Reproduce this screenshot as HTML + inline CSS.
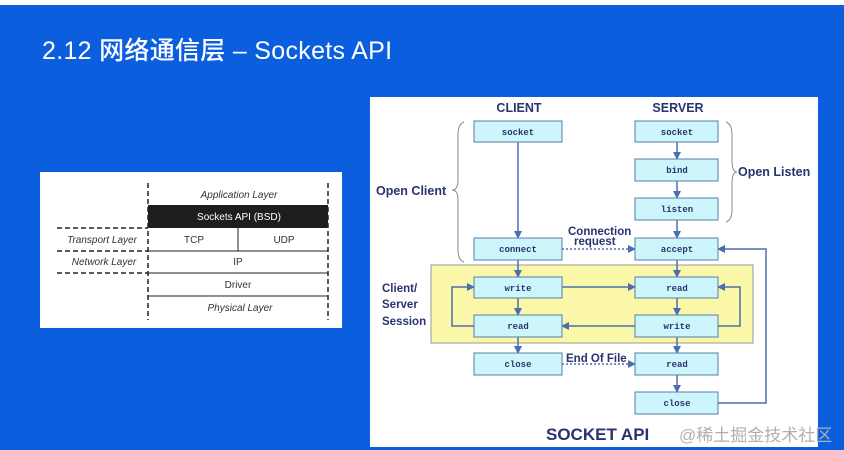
<!DOCTYPE html>
<html><head><meta charset="utf-8"><style>
html,body{margin:0;padding:0;}
body{width:844px;height:450px;overflow:hidden;background:#0b5fdf;position:relative;font-family:"Liberation Sans","Noto Sans CJK SC",sans-serif;}
</style></head><body>
<div style="position:absolute;left:0;top:0;width:844px;height:5px;background:#fff"></div>
<div style="position:absolute;left:42px;top:31px;color:#fff;font-size:25px;font-weight:500;font-family:'Liberation Sans','Noto Sans CJK SC',sans-serif;letter-spacing:0.3px;">2.12 网络通信层 – Sockets API</div>
<svg width="844" height="450" style="position:absolute;left:0;top:0" font-family="Liberation Sans, sans-serif">
<defs><marker id="a" markerWidth="8" markerHeight="8" refX="7" refY="4" orient="auto" markerUnits="userSpaceOnUse"><path d="M0,0 L8,4 L0,8 z" fill="#4a6fb0"/></marker></defs>
<rect x="40" y="172" width="302" height="156" fill="#fff"/>
<g stroke="#222" stroke-width="1.5" fill="none">
<line x1="148" y1="183" x2="148" y2="320" stroke-dasharray="5,3"/>
<line x1="328" y1="183" x2="328" y2="320" stroke-dasharray="5,3"/>
<line x1="57" y1="228" x2="148" y2="228" stroke-dasharray="5,3"/>
<line x1="57" y1="251" x2="148" y2="251" stroke-dasharray="5,3"/>
<line x1="57" y1="273" x2="148" y2="273" stroke-dasharray="5,3"/>
<line x1="148" y1="251" x2="328" y2="251" stroke-width="1"/>
<line x1="148" y1="273" x2="328" y2="273" stroke-width="1"/>
<line x1="148" y1="296" x2="328" y2="296" stroke-width="1"/>
<line x1="238" y1="228" x2="238" y2="251" stroke-width="1"/>
</g>
<rect x="148" y="205" width="180" height="23" fill="#1e1e1e"/>
<g font-size="10" fill="#333" text-anchor="middle">
<text x="239" y="198" font-style="italic">Application Layer</text>
<text x="239" y="220" fill="#fff">Sockets API (BSD)</text>
<text x="194" y="243">TCP</text><text x="284" y="243">UDP</text>
<text x="238" y="265">IP</text>
<text x="238" y="288">Driver</text>
<text x="240" y="311" font-style="italic">Physical Layer</text>
<text x="102" y="243" font-style="italic">Transport Layer</text>
<text x="104" y="265" font-style="italic">Network Layer</text>
</g>
<rect x="370" y="97" width="448" height="350" fill="#fff"/>
<rect x="431" y="265" width="322" height="78" fill="#fbf7a8" stroke="#999" stroke-width="1"/>
<g font-weight="bold" fill="#2a3270" font-size="12.5">
<text x="519" y="112" text-anchor="middle">CLIENT</text>
<text x="678" y="112" text-anchor="middle">SERVER</text>
<text x="376" y="195">Open Client</text>
<text x="738" y="176">Open Listen</text>
<text x="568" y="235" font-size="11.5">Connection</text>
<text x="574" y="245" font-size="11.5">request</text>
<text x="382" y="292" font-size="11.5">Client/</text>
<text x="382" y="308" font-size="11.5">Server</text>
<text x="382" y="325" font-size="11.5">Session</text>
<text x="566" y="362" font-size="11.5">End Of File</text>
<text x="546" y="440" font-size="17">SOCKET API</text>
</g>
<g fill="none" stroke="#888" stroke-width="1">
<path d="M464,122 Q458,124 458,135 L458,180 Q458,190 452,190 Q458,190 458,200 L458,250 Q458,260 464,262"/>
<path d="M726,122 Q732,124 732,135 L732,160 Q732,172 737,172 Q732,172 732,184 L732,210 Q732,220 726,222"/>
</g>
<g stroke="#4a6fb0" stroke-width="1.5" fill="none" marker-end="url(#a)">
<line x1="518" y1="142" x2="518" y2="238"/>
<line x1="677" y1="142" x2="677" y2="159"/>
<line x1="677" y1="181" x2="677" y2="198"/>
<line x1="677" y1="220" x2="677" y2="238"/>
<line x1="518" y1="260" x2="518" y2="277"/>
<line x1="677" y1="260" x2="677" y2="277"/>
<line x1="518" y1="298" x2="518" y2="315"/>
<line x1="677" y1="298" x2="677" y2="315"/>
<line x1="518" y1="337" x2="518" y2="353"/>
<line x1="677" y1="337" x2="677" y2="353"/>
<line x1="677" y1="375" x2="677" y2="392"/>
<line x1="562" y1="287" x2="635" y2="287"/>
<line x1="635" y1="326" x2="562" y2="326"/>
<path d="M474,326 L452,326 L452,287 L474,287"/>
<path d="M718,326 L740,326 L740,287 L718,287"/>
<path d="M718,403 L766,403 L766,249 L718,249"/>
<line x1="562" y1="249" x2="635" y2="249" stroke-dasharray="2,2"/>
<line x1="562" y1="364" x2="635" y2="364" stroke-dasharray="2,2"/>
</g>
<g fill="#ccf6fb" stroke="#5a7ca8" stroke-width="1">
<rect x="474" y="121" width="88" height="21"/>
<rect x="635" y="121" width="83" height="21"/>
<rect x="635" y="159" width="83" height="22"/>
<rect x="635" y="198" width="83" height="22"/>
<rect x="474" y="238" width="88" height="22"/>
<rect x="635" y="238" width="83" height="22"/>
<rect x="474" y="277" width="88" height="21"/>
<rect x="635" y="277" width="83" height="21"/>
<rect x="474" y="315" width="88" height="22"/>
<rect x="635" y="315" width="83" height="22"/>
<rect x="474" y="353" width="88" height="22"/>
<rect x="635" y="353" width="83" height="22"/>
<rect x="635" y="392" width="83" height="22"/>
</g>
<g font-family="Liberation Mono, monospace" font-weight="bold" font-size="9" fill="#2a3270" text-anchor="middle">
<text x="518" y="135">socket</text><text x="677" y="135">socket</text>
<text x="677" y="173">bind</text><text x="677" y="212">listen</text>
<text x="518" y="252">connect</text><text x="677" y="252">accept</text>
<text x="518" y="291">write</text><text x="677" y="291">read</text>
<text x="518" y="329">read</text><text x="677" y="329">write</text>
<text x="518" y="367">close</text><text x="677" y="367">read</text>
<text x="677" y="406">close</text>
</g>
<text x="679" y="441" font-size="17" fill="#b0b0b0" font-family="Liberation Sans, Noto Sans CJK SC, sans-serif">@稀土掘金技术社区</text>
</svg>
</body></html>
